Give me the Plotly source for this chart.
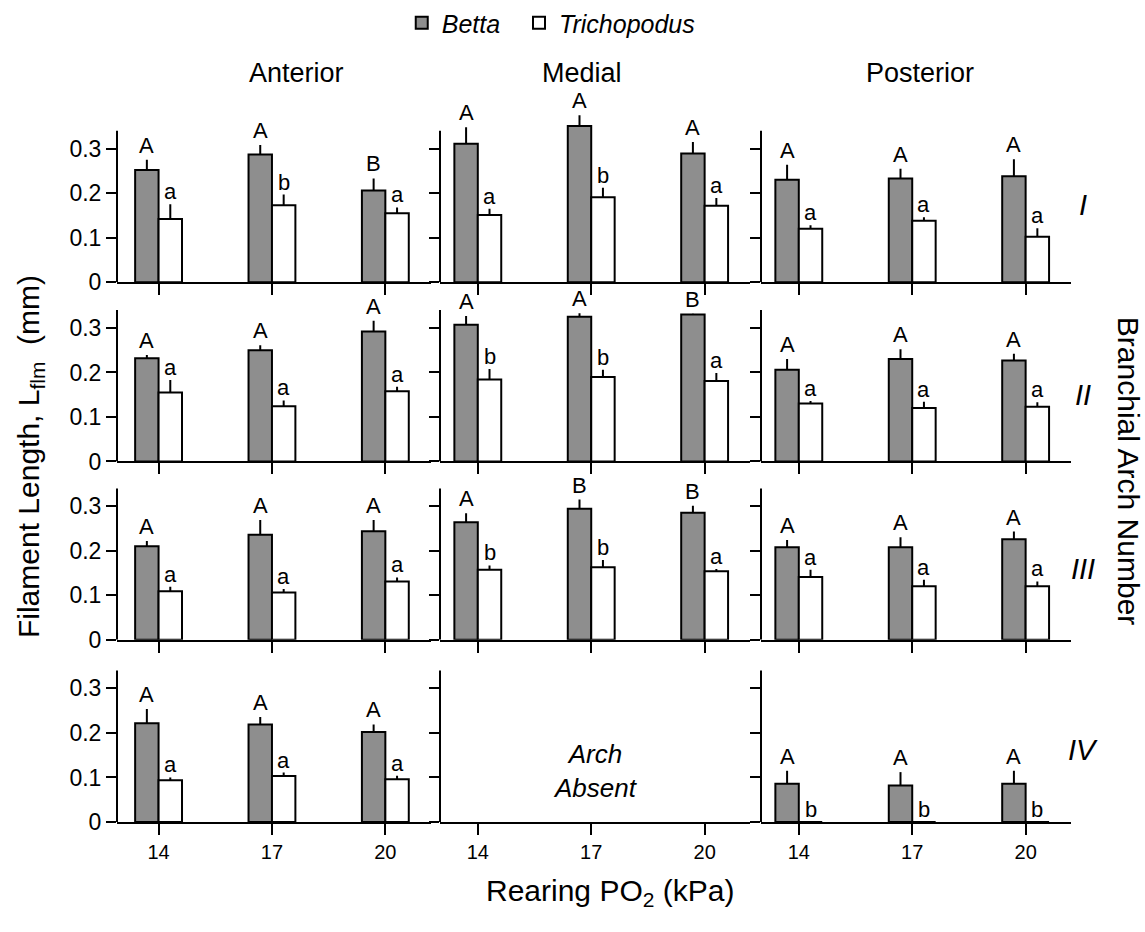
import plotly.graph_objects as go
from plotly.subplots import make_subplots

# Rearing oxygen levels (kPa) and layout labels
po2 = [14, 17, 20]
regions = ["Anterior", "Medial", "Posterior"]
arches = ["I", "II", "III", "IV"]

# Mean filament length (mm); rows = arch I..IV, columns = 14, 17, 20 kPa
betta_anterior = [[0.252, 0.287, 0.206], [0.232, 0.250, 0.292],
                  [0.210, 0.236, 0.244], [0.222, 0.219, 0.202]]
betta_medial = [[0.311, 0.351, 0.289], [0.307, 0.325, 0.330],
                [0.264, 0.294, 0.285], None]
betta_posterior = [[0.230, 0.233, 0.238], [0.206, 0.230, 0.227],
                   [0.208, 0.208, 0.226], [0.086, 0.082, 0.086]]

tricho_anterior = [[0.142, 0.173, 0.155], [0.155, 0.124, 0.158],
                   [0.109, 0.106, 0.131], [0.094, 0.103, 0.096]]
tricho_medial = [[0.151, 0.191, 0.172], [0.184, 0.190, 0.181],
                 [0.157, 0.163, 0.154], None]
tricho_posterior = [[0.120, 0.138, 0.102], [0.130, 0.120, 0.123],
                    [0.141, 0.120, 0.120], [0.0, 0.0, 0.0]]

# Standard errors (mm)
betta_anterior_se = [[0.023, 0.021, 0.027], [0.007, 0.011, 0.024],
                     [0.012, 0.033, 0.025], [0.032, 0.017, 0.017]]
betta_medial_se = [[0.037, 0.024, 0.026], [0.020, 0.008, 0.002],
                   [0.020, 0.021, 0.016], None]
betta_posterior_se = [[0.034, 0.022, 0.038], [0.024, 0.022, 0.015],
                      [0.016, 0.022, 0.017], [0.029, 0.030, 0.029]]

tricho_anterior_se = [[0.033, 0.024, 0.013], [0.028, 0.013, 0.010],
                      [0.010, 0.008, 0.009], [0.006, 0.008, 0.008]]
tricho_medial_se = [[0.014, 0.021, 0.017], [0.024, 0.016, 0.018],
                    [0.010, 0.016, 0.005], None]
tricho_posterior_se = [[0.008, 0.008, 0.019], [0.006, 0.014, 0.010],
                       [0.016, 0.015, 0.011], [0.0, 0.0, 0.0]]

# Significance letters
betta_anterior_sig = [["A", "A", "B"], ["A", "A", "A"], ["A", "A", "A"], ["A", "A", "A"]]
betta_medial_sig = [["A", "A", "A"], ["A", "A", "B"], ["A", "B", "B"], None]
betta_posterior_sig = [["A", "A", "A"], ["A", "A", "A"], ["A", "A", "A"], ["A", "A", "A"]]
tricho_anterior_sig = [["a", "b", "a"], ["a", "a", "a"], ["a", "a", "a"], ["a", "a", "a"]]
tricho_medial_sig = [["a", "b", "a"], ["b", "b", "a"], ["b", "b", "a"], None]
tricho_posterior_sig = [["a", "a", "a"], ["a", "a", "a"], ["a", "a", "a"], ["b", "b", "b"]]

betta = [betta_anterior, betta_medial, betta_posterior]
tricho = [tricho_anterior, tricho_medial, tricho_posterior]
betta_se = [betta_anterior_se, betta_medial_se, betta_posterior_se]
tricho_se = [tricho_anterior_se, tricho_medial_se, tricho_posterior_se]
betta_sig = [betta_anterior_sig, betta_medial_sig, betta_posterior_sig]
tricho_sig = [tricho_anterior_sig, tricho_medial_sig, tricho_posterior_sig]

W, H = 1145, 932
SANS = "Liberation Sans, Arial, sans-serif"
LETTER_FONT = dict(family=SANS, size=22, color="black")
BETTA_FILL = "#8e8e8e"
BAR_W = 0.62
Y_TOP = 0.38        # headroom for tall bars and their letters
Y_LINE_TOP = 0.34   # visible extent of the value axis
PX_PER_UNIT = 452   # vertical pixels per mm

# panel placement in pixels (left/right edges; zero line of each row)
col_px = [(117, 430.7), (440, 750), (761, 1071)]
col_range = [[12.9, 21.2], [13.0, 21.2], [13.0, 21.2]]
row_zero_px = [285.5, 467.5, 648.5, 833.5]

fig = make_subplots(rows=4, cols=3)

annotations = []
shapes = []
for r in range(4):
    bottom = row_zero_px[r]
    top = bottom - Y_TOP * PX_PER_UNIT
    for c in range(3):
        n = r * 3 + c + 1
        xa = "xaxis" if n == 1 else f"xaxis{n}"
        ya = "yaxis" if n == 1 else f"yaxis{n}"
        xref = "x" if n == 1 else f"x{n}"
        yref = "y" if n == 1 else f"y{n}"
        fig.layout[xa].update(
            visible=True,
            domain=[col_px[c][0] / W, col_px[c][1] / W],
            range=col_range[c], tickvals=po2, ticktext=[str(v) for v in po2],
            showticklabels=(r == 3), ticks="outside", ticklen=11, tickwidth=2,
            tickcolor="black", showline=True, linecolor="black", linewidth=2,
            showgrid=False, zeroline=False,
            tickfont=dict(family=SANS, size=20, color="black"))
        fig.layout[ya].update(
            visible=True,
            domain=[1 - bottom / H, 1 - top / H],
            range=[0, Y_TOP], tickvals=[0, 0.1, 0.2, 0.3],
            ticktext=["0", "0.1", "0.2", "0.3"], showticklabels=(c == 0),
            ticks="outside", ticklen=10, tickwidth=2, tickcolor="black",
            showline=False, showgrid=False, zeroline=False,
            tickfont=dict(family=SANS, size=23, color="black"))
        # value axis line stops short of the headroom
        shapes.append(dict(type="line", xref=f"{xref} domain", x0=0, x1=0,
                           yref=yref, y0=0, y1=Y_LINE_TOP,
                           line=dict(color="black", width=2)))

        if betta[c][r] is None:
            continue
        first = (r == 0 and c == 0)
        fig.add_trace(go.Bar(
            x=po2, y=betta[c][r], width=BAR_W, offset=-BAR_W,
            name="<i>Betta</i>\u00a0\u00a0", legendgroup="betta", showlegend=first,
            marker=dict(color=BETTA_FILL, line=dict(color="black", width=2)),
            error_y=dict(type="data", array=betta_se[c][r], arrayminus=[0, 0, 0],
                         symmetric=False, width=0, thickness=2, color="black"),
            cliponaxis=False), row=r + 1, col=c + 1)
        fig.add_trace(go.Bar(
            x=po2, y=tricho[c][r], width=BAR_W, offset=0,
            name="<i>Trichopodus</i>", legendgroup="tricho", showlegend=first,
            marker=dict(color="white", line=dict(color="black", width=2)),
            error_y=dict(type="data", array=tricho_se[c][r], arrayminus=[0, 0, 0],
                         symmetric=False, width=0, thickness=2, color="black"),
            cliponaxis=False), row=r + 1, col=c + 1)

        for i, x in enumerate(po2):
            annotations.append(dict(
                x=x - BAR_W / 2, y=betta[c][r][i] + betta_se[c][r][i],
                xref=xref, yref=yref, text=betta_sig[c][r][i], showarrow=False,
                yanchor="bottom", yshift=1, borderpad=0, font=LETTER_FONT))
            annotations.append(dict(
                x=x + BAR_W / 2, y=tricho[c][r][i] + tricho_se[c][r][i],
                xref=xref, yref=yref, text=tricho_sig[c][r][i], showarrow=False,
                yanchor="bottom", yshift=-1, borderpad=0, font=LETTER_FONT))


def paper_text(text, px, py, size, angle=0, italic=False):
    if italic:
        text = f"<i>{text}</i>"
    return dict(text=text, x=px / W, y=1 - py / H, xref="paper", yref="paper",
                xanchor="center", yanchor="middle", showarrow=False,
                textangle=angle, font=dict(family=SANS, size=size, color="black"))


# column headers
for name, px in zip(regions, [296, 582, 920]):
    annotations.append(paper_text(name, px, 73, 27))

# arch numerals
for name, py in zip(arches, [207, 400, 577, 760]):
    annotations.append(paper_text(name, 1083, py, 29, italic=True))

annotations.append(paper_text("Arch<br>Absent", 596, 782, 26, italic=True))
annotations.append(paper_text("Filament Length, L<sub>flm</sub>  (mm)", 30, 463, 30, angle=-90))
annotations.append(paper_text("Rearing PO<sub>2</sub> (kPa)", 610, 905, 30))
annotations.append(paper_text("Branchial Arch Number", 1128, 477, 30, angle=90))

fig.update_layout(
    width=W, height=H, margin=dict(l=0, r=0, t=0, b=0),
    paper_bgcolor="white", plot_bgcolor="white", barmode="overlay",
    annotations=annotations, shapes=shapes,
    legend=dict(orientation="h", x=0.481, xanchor="center", y=1 - 22 / H,
                yanchor="middle",
                font=dict(family=SANS, size=25, color="black"),
                bgcolor="rgba(0,0,0,0)"),
)

fig.write_html("out.html")
